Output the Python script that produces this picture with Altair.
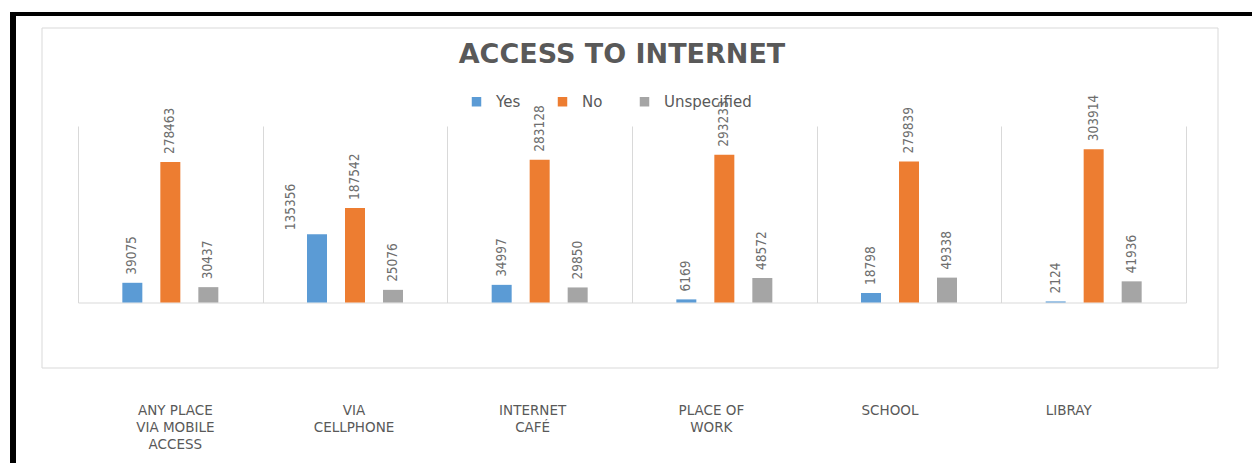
import altair as alt
import pandas as pd

# ---- data ----
categories = ["ANY PLACE VIA MOBILE ACCESS", "VIA CELLPHONE", "INTERNET CAFÉ",
              "PLACE OF WORK", "SCHOOL", "LIBRAY"]
category_lines = ["ANY PLACE\nVIA MOBILE\nACCESS", "VIA\nCELLPHONE", "INTERNET\nCAFÉ",
                  "PLACE OF\nWORK", "SCHOOL", "LIBRAY"]
series = ["Yes", "No", "Unspecified"]
yes_values = [39075, 135356, 34997, 6169, 18798, 2124]
no_values = [278463, 187542, 283128, 293233, 279839, 303914]
unspecified_values = [30437, 25076, 29850, 48572, 49338, 41936]
series_colors = ["#5B9BD5", "#ED7D31", "#A5A5A5"]
title_text = "ACCESS TO INTERNET"

rows = []
for s, vals in zip(series, [yes_values, no_values, unspecified_values]):
    for c, v in zip(categories, vals):
        rows.append({"category": c, "series": s, "value": v})
df = pd.DataFrame(rows)
label_df = pd.DataFrame({"category": categories, "label": category_lines})
one = pd.DataFrame({"k": [0]})

W, H = 1108, 176.5

x_main = alt.X(
    "category:N", sort=categories,
    scale=alt.Scale(type="band", paddingInner=0, paddingOuter=0),
    axis=alt.Axis(title=None, labels=False, ticks=False, grid=True, tickBand="extent",
                  gridColor="#d9d9d9", gridWidth=1, domainColor="#d9d9d9", domainWidth=1),
)
x_off = alt.XOffset("series:N", sort=series,
                    scale=alt.Scale(paddingInner=0.14, paddingOuter=1))
y_main = alt.Y("value:Q", scale=alt.Scale(domain=[0, 350000], nice=False), axis=None)

bars = alt.Chart(df).mark_bar(width=20).encode(
    x=x_main, xOffset=x_off, y=y_main,
    color=alt.Color(
        "series:N", sort=series,
        scale=alt.Scale(domain=series, range=series_colors),
        legend=alt.Legend(
            title=None, orient="none", direction="horizontal",
            legendX=391, legendY=-32, symbolType="square", symbolSize=90,
            symbolStrokeWidth=0, labelFontSize=15, labelFont="DejaVu Sans",
            labelColor="#595959", labelOffset=12, columnPadding=34, padding=0,
        ),
    ),
)

label_style = dict(
    angle=270, align="left", baseline="middle", fontSize=13.5,
    font="Liberation Sans Narrow, DejaVu Sans Condensed, Arial Narrow, sans-serif",
    color="#6e6e6e",
)
moved = "datum.series == 'Yes' && datum.category == 'VIA CELLPHONE'"

value_labels = alt.Chart(df).transform_filter("!(" + moved + ")").mark_text(
    dx=8, **label_style
).encode(x=x_main, xOffset=x_off, y=y_main, text=alt.Text("value:Q", format="d"))

# the one label that sits beside its bar in the reference
value_label_side = alt.Chart(df).transform_filter(moved).mark_text(
    dx=4, dy=-26, **label_style
).encode(x=x_main, xOffset=x_off, y=y_main, text=alt.Text("value:Q", format="d"))

plot = alt.layer(bars, value_labels, value_label_side)

inner_box = alt.Chart(one).mark_rect(fillOpacity=0, stroke="#d9d9d9", strokeWidth=1).encode(
    x=alt.value(-36), x2=alt.value(1140), y=alt.value(-98), y2=alt.value(242)
)
border_left = alt.Chart(one).mark_rule(color="black", strokeWidth=6).encode(
    x=alt.value(-65), y=alt.value(-114), y2=alt.value(360)
)
border_top = alt.Chart(one).mark_rule(color="black", strokeWidth=4).encode(
    x=alt.value(-68), x2=alt.value(1200), y=alt.value(-112)
)
title = alt.Chart(one).mark_text(
    fontSize=27, fontWeight="bold", font="DejaVu Sans", color="#595959",
    align="center", baseline="alphabetic",
).encode(x=alt.value(544), y=alt.value(-63), text=alt.value(title_text))

cat_labels = alt.Chart(label_df).mark_text(
    lineBreak="\n", baseline="top", align="center", fontSize=13.5,
    font="DejaVu Sans", color="#595959", lineHeight=17,
).encode(
    x=alt.X("category:N", sort=categories,
            scale=alt.Scale(type="point", range=[8, 1080], padding=0.5), axis=None),
    y=alt.value(278),
    text="label:N",
)

chart = alt.layer(inner_box, border_left, border_top, title, plot, cat_labels).resolve_scale(
    x="independent"
).properties(
    width=W, height=H,
    autosize=alt.AutoSizeParams(type="none"),
    padding={"left": 70, "top": 118, "right": 66, "bottom": 160},
    background="white",
).configure_view(strokeWidth=0)

chart.save("out.html", embed_options={"renderer": "svg", "actions": False})
